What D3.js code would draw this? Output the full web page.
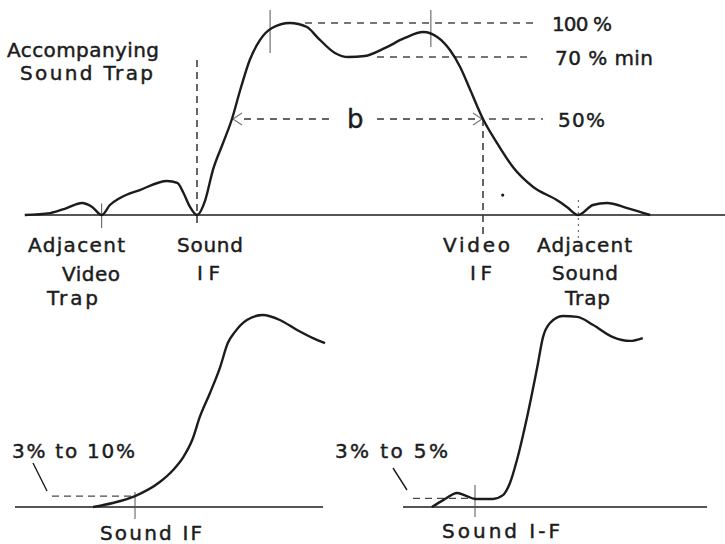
<!DOCTYPE html>
<html><head><meta charset="utf-8">
<script src="https://cdn.jsdelivr.net/npm/d3@7"></script>
<style>
html,body{margin:0;padding:0;background:#fff;}
text{font-family:"DejaVu Sans",sans-serif;fill:#1c1c1c;stroke:#1c1c1c;stroke-width:0.45;}
</style></head>
<body>
<svg id="c" width="725" height="544"></svg>
<script>
// ---- data: [frequency MHz, relative response %] ----
const topCurve = [[38.54,0],[38.94,1.0],[39.20,3.6],[39.44,6.25],[39.60,4.2],[39.75,0],
 [39.88,5.2],[40.04,8.9],[40.35,13.0],[40.78,17.7],[40.94,16.7],[41.03,12.0],[41.14,4.2],[41.25,0],
 [41.38,7.8],[41.50,23.4],[41.66,37.5],[41.80,50],[41.93,65.1],[42.08,80.7],[42.24,91.1],[42.43,97.4],[42.71,100],
 [42.98,97.9],[43.14,92.7],[43.42,84.4],[43.63,82.3],[43.89,82.8],[44.21,87.0],[44.52,92.2],[44.81,95.3],
 [45.03,92.7],[45.23,85.9],[45.39,77.1],[45.55,65.1],[45.75,50],[45.97,37.5],[46.22,25.0],[46.54,14.6],
 [46.91,7.8],[47.07,4.2],[47.25,0],[47.48,5.2],[47.70,6.25],[48.02,3.6],[48.38,0]];
const lowerLeftCurve = [[40.59,0],[40.90,2.1],[41.25,5.7],[41.64,13.0],[41.85,19.3],[42.01,26.0],[42.15,34.9],
 [42.27,46.9],[42.43,59.4],[42.59,72.9],[42.71,85.4],[42.82,91.1],[43.01,97.4],[43.26,100],[43.53,97.4],
 [43.80,92.2],[44.05,88.0],[44.24,85.4]];
const lowerRightCurve = [[40.57,0],[40.75,3.6],[40.97,7.3],[41.12,5.7],[41.25,4.2],[41.53,4.2],[41.69,6.2],[41.80,12.5],
 [41.91,24.5],[42.07,46.9],[42.23,72.9],[42.32,88.5],[42.43,95.8],[42.63,99.5],[42.86,99.0],[43.11,94.8],[43.42,88.5],[43.69,86.5],[43.89,88.0]];
const levelLabels = ["100 %","70 % min","50%"];
const levelValues = [100, 82.3, 50];
const carrierFreqs = [39.75, 41.25, 45.75, 47.25];
const peakFreqs = [42.40, 44.93];
const bandwidthLabel = "b";
const lowerLeftLabels = ["3% to 10%","Sound  IF"];
const lowerRightLabels = ["3% to 5%","Sound I-F"];
const soundLevelLeft = 5.7, soundLevelRight = 4.5;

const svg = d3.select("#c");
const ink = "#1c1c1c", dash = "#4a4a4a";

// scales
const xTop = d3.scaleLinear().domain([41.25,45.75]).range([197,483]);
const yTop = d3.scaleLinear().domain([0,100]).range([215,23]);
const xLL = d3.scaleLinear().domain([41.25,45.75]).range([135,421]);
const yLow = d3.scaleLinear().domain([0,100]).range([507,315]);
const xLR = d3.scaleLinear().domain([41.25,45.75]).range([475,761]);

const line = (xs, ys) => d3.line().x(d=>xs(d[0])).y(d=>ys(d[1])).curve(d3.curveMonotoneX);

function seg(x1,y1,x2,y2,opt={}){
  return svg.append("line").attr("x1",x1).attr("y1",y1).attr("x2",x2).attr("y2",y2)
    .attr("stroke",opt.c||dash).attr("stroke-width",opt.w||1.3)
    .attr("stroke-dasharray",opt.d||null);
}
function txt(x,y,s,len,opt={}){
  const t = svg.append("text").attr("x",x).attr("y",y).text(s)
    .attr("font-size",opt.fs||20);
  if(len){ t.attr("textLength",len).attr("lengthAdjust","spacing"); }
  return t;
}

// ===== TOP CHART =====
seg(25,yTop(0),725,yTop(0),{c:ink,w:1.6});
// level lines
seg(xTop(42.95),yTop(levelValues[0]),533,yTop(levelValues[0]),{d:"7,6"});
seg(377,yTop(levelValues[1]),533,yTop(levelValues[1]),{d:"7,6"});
const ax1 = xTop(41.80), ax2 = xTop(45.75), ay = yTop(50);
seg(ax1+12,ay,335,ay,{d:"7,6",w:1.6,c:"#333"});
seg(377,ay,ax2-4,ay,{d:"7,6",w:1.6,c:"#333"});
seg(ax2+6,ay,543,ay,{d:"7,6"});
// arrowheads
svg.append("path").attr("d",`M${ax1+10},${ay-6}L${ax1+1},${ay}L${ax1+10},${ay+6}`).attr("fill","none").attr("stroke","#777").attr("stroke-width",1.2);
svg.append("path").attr("d",`M${ax2-10},${ay-6}L${ax2-1},${ay}L${ax2-10},${ay+6}`).attr("fill","none").attr("stroke","#777").attr("stroke-width",1.2);
txt(347,ay+9,bandwidthLabel,null,{fs:26});
const levelX=[552,555,558], levelW=[60,98,47];
levelLabels.forEach((l,i)=>{
  txt(levelX[i],yTop(levelValues[i])+8,l,levelW[i]);
});
// peak ticks
seg(xTop(peakFreqs[0]),10,xTop(peakFreqs[0]),53,{c:"#555",w:1});
seg(xTop(peakFreqs[1]),10,xTop(peakFreqs[1]),47,{c:"#555",w:1});
// carrier markers
seg(xTop(carrierFreqs[0]),yTop(6),xTop(carrierFreqs[0]),228,{c:"#555",w:1});
seg(xTop(carrierFreqs[1]),60,xTop(carrierFreqs[1]),226,{d:"7,5",w:1.5,c:"#333"});
seg(xTop(carrierFreqs[2]),yTop(50),xTop(carrierFreqs[2]),236,{d:"7,5",w:1.5,c:"#333"});
seg(xTop(carrierFreqs[3]),200,xTop(carrierFreqs[3]),240,{d:"2,4",w:1,c:"#555"});
// speck
svg.append("circle").attr("cx",xTop(46.06)).attr("cy",yTop(10.4)).attr("r",1.6).attr("fill",ink);
// curve
svg.append("path").attr("d",line(xTop,yTop)(topCurve)).attr("fill","none").attr("stroke",ink).attr("stroke-width",2.4);

// top labels
txt(7,57,"Accompanying",152);
txt(20,80,"Sound  Trap",133);
txt(28,252,"Adjacent",97);
txt(62,281,"Video",58);
txt(47,305,"Trap",51);
txt(177,252,"Sound",66);
txt(197,280,"IF",23);
txt(443,252,"Video",67);
txt(470,280,"IF",22);
txt(537,252,"Adjacent",95);
txt(552,280,"Sound",66);
txt(565,305,"Trap",45);

// ===== LOWER LEFT =====
seg(15,yLow(0),323,yLow(0),{c:ink,w:1.4});
seg(52,yLow(soundLevelLeft),xLL(41.25),yLow(soundLevelLeft),{d:"7,5",w:1.3});
seg(xLL(41.25),492,xLL(41.25),519,{c:"#555",w:1});
seg(33,463,47,491,{c:ink,w:1.4});
svg.append("path").attr("d",line(xLL,yLow)(lowerLeftCurve)).attr("fill","none").attr("stroke",ink).attr("stroke-width",2.4);
txt(12,458,lowerLeftLabels[0],123);
txt(100,540,lowerLeftLabels[1],102);

// ===== LOWER RIGHT =====
seg(403,yLow(0),707,yLow(0),{c:ink,w:1.4});
seg(413,yLow(soundLevelRight),xLR(41.25),yLow(soundLevelRight),{d:"7,5",w:1.3});
seg(xLR(41.25),485,xLR(41.25),517,{c:"#555",w:1});
seg(393,468,407,490,{c:ink,w:1.4});
svg.append("path").attr("d",line(xLR,yLow)(lowerRightCurve)).attr("fill","none").attr("stroke",ink).attr("stroke-width",2.4);
txt(335,458,lowerRightLabels[0],113);
txt(442,538,lowerRightLabels[1],118);
</script>
</body></html>
